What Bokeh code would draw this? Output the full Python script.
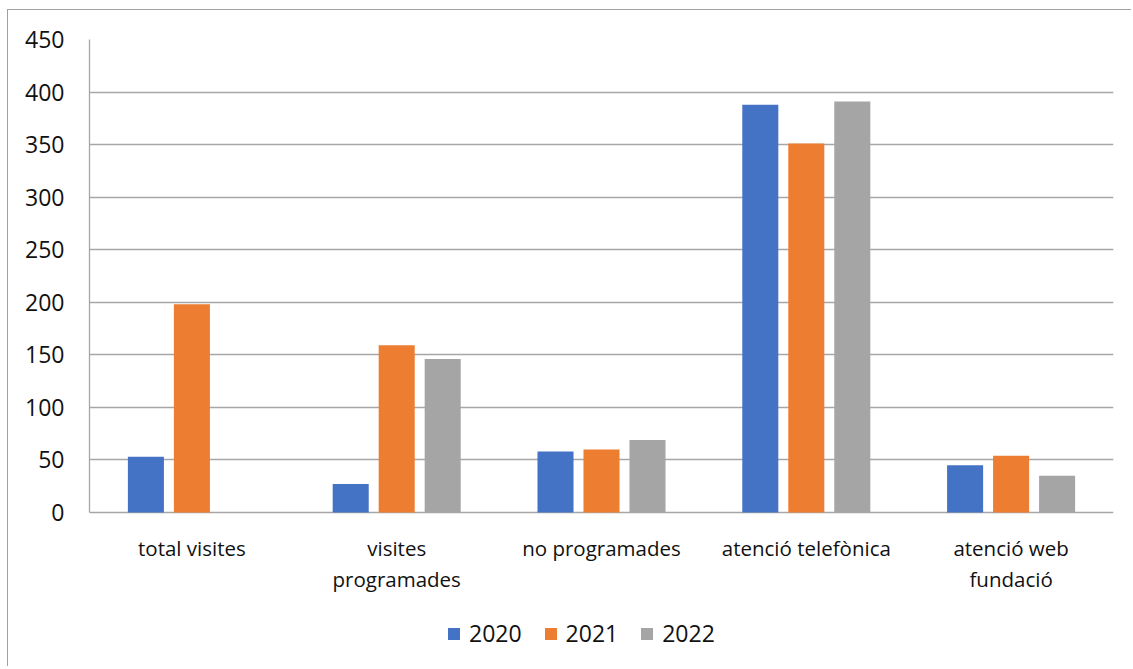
from bokeh.plotting import figure
from bokeh.models import ColumnDataSource, FactorRange, Legend, LegendItem, FixedTicker
from bokeh.core.properties import value
from bokeh.transform import dodge
from bokeh.embed import file_html
from bokeh.resources import INLINE

categories = ["total visites", "visites programades", "no programades", "atenció telefònica", "atenció web fundació"]
label_text = {"visites programades": "visites\nprogramades", "atenció web fundació": "atenció web\nfundació"}
years = ["2020", "2021", "2022"]
v2020 = [53, 27, 58, 388, 45]
v2021 = [198, 159, 60, 351, 54]
v2022 = [0, 146, 69, 391, 35]
colors = ["#4472C4", "#ED7D31", "#A5A5A5"]
y_ticks = [0, 50, 100, 150, 200, 250, 300, 350, 400, 450]

FONT = "Open Sans"
src = ColumnDataSource(dict(cat=categories, label=[label_text.get(c, c) for c in categories],
                            v2020=v2020, v2021=v2021, v2022=v2022))

# frame extends to the bottom of the figure; value 0 sits at the category axis line
p = figure(x_range=FactorRange(*categories, range_padding=0), y_range=(-147.5, 450),
           width=1124, height=657, output_backend="svg", toolbar_location=None,
           x_axis_location=None,
           min_border_left=81, min_border_right=19, min_border_top=29, min_border_bottom=0)
p.styles = {"margin-left": "7px", "margin-top": "9px",
            "border-left": "1px solid #a0a0a0", "border-top": "1px solid #a0a0a0"}
p.outline_line_color = None
p.background_fill_color = "white"

renderers = []
for i, (yr, col, fld) in enumerate(zip(years, colors, ["v2020", "v2021", "v2022"])):
    r = p.vbar(x=dodge("cat", (i - 1) * 0.2246, range=p.x_range), top=fld, width=0.176,
               source=src, fill_color=col, line_color=None)
    renderers.append(r)

# category labels under the axis line
p.text(x="cat", y=-20.5, text="label", source=src, text_align="center", text_baseline="top",
       text_font=value(FONT), text_font_size="20.5px", text_color="#111111", text_line_height=1.12)

p.yaxis.ticker = FixedTicker(ticks=y_ticks)
p.yaxis.bounds = (0, 450)
p.ygrid.ticker = FixedTicker(ticks=y_ticks)
p.xgrid.grid_line_color = None
p.ygrid.grid_line_color = "#a6a6a6"
p.ygrid.grid_line_width = 1.3

ax = p.yaxis[0]
ax.axis_line_color = "#a6a6a6"
ax.axis_line_width = 1.3
ax.major_tick_line_color = None
ax.minor_tick_line_color = None
ax.major_tick_out = 0
ax.major_tick_in = 0
ax.major_label_text_font = FONT
ax.major_label_text_font_size = "23px"
ax.major_label_text_color = "#111111"
ax.major_label_standoff = 25

legend = Legend(items=[LegendItem(label=yr, renderers=[r]) for yr, r in zip(years, renderers)],
                orientation="horizontal", location=(357, 18))
legend.glyph_width = 15
legend.glyph_height = 15
legend.label_standoff = 8
legend.spacing = 21
legend.padding = 0
legend.margin = 0
legend.border_line_color = None
legend.background_fill_alpha = 0
legend.label_text_font = FONT
legend.label_text_font_size = "23px"
legend.label_text_color = "#111111"
legend.label_height = 20
p.add_layout(legend, "center")

open("out.html", "w").write(file_html(p, INLINE))
